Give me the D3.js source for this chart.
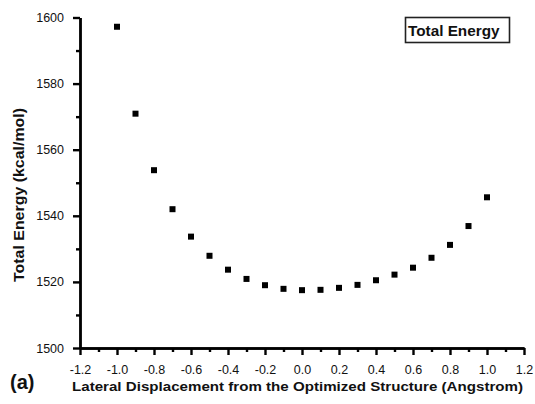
<!DOCTYPE html>
<html>
<head>
<meta charset="utf-8">
<script src="https://cdn.jsdelivr.net/npm/d3@7"></script>
<style>
  html, body { margin: 0; padding: 0; background: #fff; }
  svg { display: block; }
</style>
</head>
<body>
<div id="chart"></div>
<script>
// lateral displacement (Angstrom) and total energy (kcal/mol)
const displacement = [-1.0, -0.9, -0.8, -0.7, -0.6, -0.5, -0.4, -0.3, -0.2, -0.1, 0.0,
                      0.1, 0.2, 0.3, 0.4, 0.5, 0.6, 0.7, 0.8, 0.9, 1.0];
const energy = [1597.2, 1570.9, 1553.8, 1542.0, 1533.7, 1527.9, 1523.7, 1520.9, 1519.0, 1517.9, 1517.5,
                1517.6, 1518.2, 1519.1, 1520.5, 1522.2, 1524.3, 1527.3, 1531.2, 1536.9, 1545.6];
const xTicks = [-1.2, -1.0, -0.8, -0.6, -0.4, -0.2, 0.0, 0.2, 0.4, 0.6, 0.8, 1.0, 1.2];
const xMinor = [-1.1, -0.9, -0.7, -0.5, -0.3, -0.1, 0.1, 0.3, 0.5, 0.7, 0.9, 1.1];
const yTicks = [1500, 1520, 1540, 1560, 1580, 1600];
const yMinor = [1510, 1530, 1550, 1570, 1590];

const FONT = '"Liberation Sans", Arial, sans-serif';
const W = 535, H = 404;
const svg = d3.select('#chart').append('svg').attr('width', W).attr('height', H)
  .style('font-family', FONT);

const x = d3.scaleLinear().domain([-1.2, 1.2]).range([80, 524]);
const y = d3.scaleLinear().domain([1500, 1600]).range([348, 17.5]);

function styleAxis(g) {
  g.style('font-family', FONT).style('font-size', '12.5px');
  g.selectAll('path, line').style('stroke', '#000').style('stroke-width', '2.4px');
  g.selectAll('text').style('fill', '#111');
}

// x axis: minor then major ticks
svg.append('g').attr('transform', `translate(0,${y(1500)})`)
  .call(d3.axisBottom(x).tickValues(xMinor).tickSize(4).tickFormat('').tickSizeOuter(0))
  .call(styleAxis);
svg.append('g').attr('transform', `translate(0,${y(1500)})`)
  .call(d3.axisBottom(x).tickValues(xTicks).tickSize(7).tickPadding(10).tickSizeOuter(0)
    .tickFormat(d => d.toFixed(1)))
  .call(styleAxis);

// y axis
svg.append('g').attr('transform', `translate(${x(-1.2)},0)`)
  .call(d3.axisLeft(y).tickValues(yMinor).tickSize(4).tickFormat('').tickSizeOuter(0))
  .call(styleAxis);
svg.append('g').attr('transform', `translate(${x(-1.2)},0)`)
  .call(d3.axisLeft(y).tickValues(yTicks).tickSize(7).tickPadding(9).tickSizeOuter(0)
    .tickFormat(d3.format('d')))
  .call(styleAxis);

// markers
const pts = displacement.map((d, i) => ({ d, e: energy[i] }));
svg.append('g').selectAll('rect.pt').data(pts).join('rect').attr('class', 'pt')
  .attr('x', p => x(p.d) - 3).attr('y', p => y(p.e) - 3)
  .attr('width', 6).attr('height', 6).attr('fill', '#000');

// titles
svg.append('text').attr('transform', 'translate(24,195) rotate(-90)')
  .attr('text-anchor', 'middle').attr('font-size', 14).attr('font-weight', 'bold')
  .attr('fill', '#111')
  .attr('textLength', 174).attr('lengthAdjust', 'spacingAndGlyphs')
  .text('Total Energy (kcal/mol)');
svg.append('text').attr('x', 72).attr('y', 391)
  .attr('font-size', 13.5).attr('font-weight', 'bold').attr('fill', '#111')
  .attr('textLength', 451).attr('lengthAdjust', 'spacingAndGlyphs')
  .text('Lateral Displacement from the Optimized Structure (Angstrom)');
svg.append('text').attr('x', 10).attr('y', 389)
  .attr('font-size', 20).attr('font-weight', 'bold').attr('fill', '#111').text('(a)');

// legend box
svg.append('rect').attr('x', 405.5).attr('y', 17.5).attr('width', 104).attr('height', 25)
  .attr('fill', 'none').attr('stroke', '#222').attr('stroke-width', 1.6);
svg.append('text').attr('x', 408).attr('y', 35.5)
  .attr('font-size', 15.3).attr('font-weight', 'bold').attr('fill', '#111').text('Total Energy');
</script>
</body>
</html>
